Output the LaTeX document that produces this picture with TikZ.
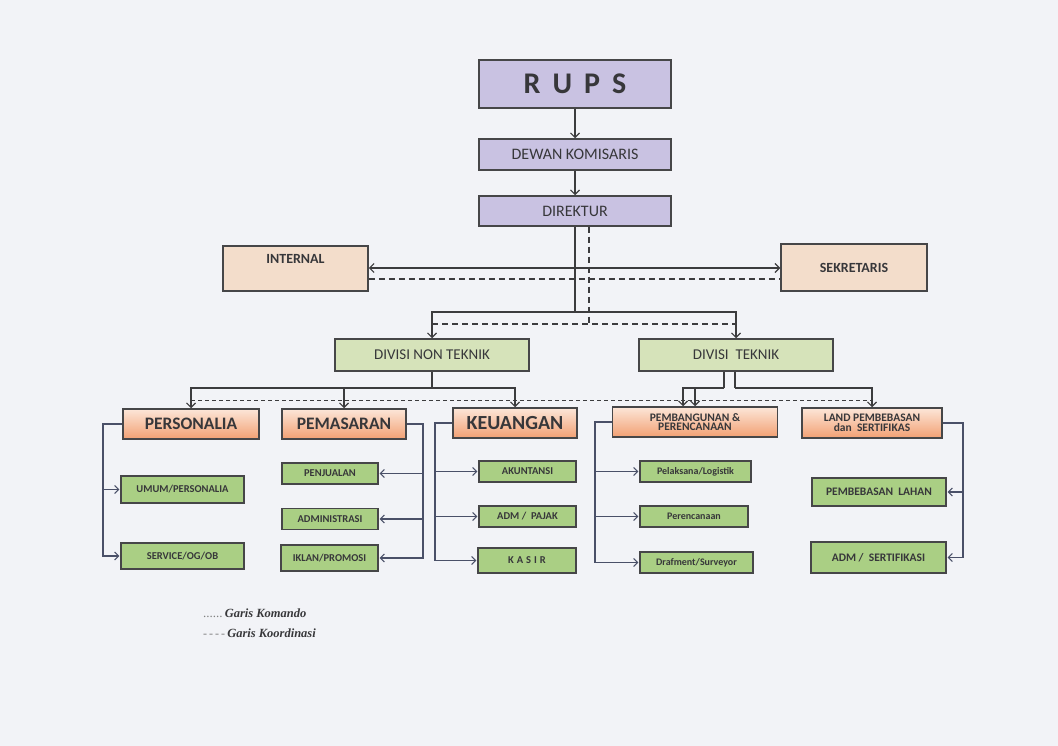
\documentclass[tikz,border=0pt]{standalone}
\usepackage{fontspec}
\setmainfont{Carlito}
\newfontfamily\legendfont{Liberation Serif}
\usetikzlibrary{arrows.meta}
\definecolor{bg}{RGB}{242,243,247}
\definecolor{lav}{RGB}{201,194,226}
\definecolor{peach}{RGB}{243,221,203}
\definecolor{divg}{RGB}{214,227,186}
\definecolor{subg}{RGB}{170,207,132}
\definecolor{deptop}{RGB}{252,230,216}
\definecolor{deptbot}{RGB}{242,160,115}
\definecolor{boxline}{RGB}{70,70,72}
\definecolor{ln}{RGB}{60,60,62}
\definecolor{lnb}{RGB}{74,80,104}
\definecolor{txt}{RGB}{55,55,58}
\newcommand\fsz[1]{\fontsize{#1}{#1}\selectfont}
\begin{document}
\begin{tikzpicture}[x=1pt,y=-1pt,
  box/.style={draw=boxline, line width=1.5pt, inner sep=0pt, text=txt, align=center},
  topbox/.style={box, fill=lav, minimum width=192pt},
  pbox/.style={box, fill=peach},
  divbox/.style={box, fill=divg, minimum height=32pt, font=\fsz{15}},
  dept/.style={box, top color=deptop, bottom color=deptbot, minimum height=30pt, font=\bfseries},
  sub/.style={box, fill=subg, line width=1.3pt, font=\fsz{10.5}\bfseries},
  lnk/.style={draw=ln, line width=1.1pt},
  arr/.style={lnk, -{Straight Barb[length=4.5pt,width=9pt]}},
  darr/.style={lnk, {Straight Barb[length=4.5pt,width=9pt]}-{Straight Barb[length=4.5pt,width=9pt]}},
  arrb/.style={draw=lnb, line width=1.1pt, -{Straight Barb[length=4pt,width=8pt]}, shorten >=1pt},
  dsh/.style={draw=ln, line width=1.1pt, dash pattern=on 6pt off 4pt},
  dsh2/.style={draw=ln, line width=0.9pt, dash pattern=on 4pt off 3pt},
]
\fill[bg] (0,0) rectangle (1058,746);
\useasboundingbox (0,0) rectangle (1058,746);

% top chain
\node[topbox, minimum height=48pt, font=\fsz{30}\bfseries] (rups) at (575,84) {R\hspace{12pt}U\hspace{12pt}P\hspace{12pt}S};
\node[topbox, minimum height=31pt, font=\fsz{16}] (dewan) at (575,154.5) {DEWAN KOMISARIS};
\node[topbox, minimum height=30pt, font=\fsz{16}] (dir) at (575,211) {DIREKTUR};

% staff
\node[pbox, minimum width=145pt, text height=18pt, text depth=27pt, inner ysep=0pt, font=\fsz{14}\bfseries] (int) at (295.5,268.5) {INTERNAL};
\node[pbox, minimum width=146pt, minimum height=47pt, font=\fsz{14}\bfseries] (sek) at (854,267.5) {SEKRETARIS};

% divisions
\node[divbox, minimum width=194pt] (dnt) at (432,355) {DIVISI NON TEKNIK};
\node[divbox, minimum width=194pt] (dt) at (736,355) {DIVISI\ \ TEKNIK};

% departments
\node[dept, minimum width=136pt, font=\fsz{17.5}\bfseries] (pers) at (191,424) {PERSONALIA};
\node[dept, minimum width=124pt, font=\fsz{17.5}\bfseries] (pem) at (344,424) {PEMASARAN};
\node[dept, minimum width=124pt, font=\fsz{20}\bfseries] (kue) at (515,423) {KEUANGAN};
\node[dept, minimum width=165pt, font=\fontsize{11.5}{9.5}\selectfont\bfseries] (pb) at (695,422) {PEMBANGUNAN \&\\PERENCANAAN};
\node[dept, minimum width=140pt, font=\fontsize{11.5}{10}\selectfont\bfseries] (land) at (872,423) {LAND PEMBEBASAN\\dan\ \ SERTIFIKAS};

% sub units
\node[sub, minimum width=123pt, minimum height=27pt] (umum) at (182.5,489.5) {UMUM/PERSONALIA};
\node[sub, minimum width=123pt, minimum height=26pt] (serv) at (182.5,556) {SERVICE/OG/OB};
\node[sub, minimum width=96pt, minimum height=21pt] (penj) at (330,473.5) {PENJUALAN};
\node[sub, minimum width=96pt, minimum height=21pt] (adm) at (330,519) {ADMINISTRASI};
\node[sub, minimum width=97pt, minimum height=26pt] (ikl) at (329.5,558) {IKLAN/PROMOSI};
\node[sub, minimum width=97pt, minimum height=21pt] (akun) at (527.5,471.5) {AKUNTANSI};
\node[sub, minimum width=97pt, minimum height=21pt] (pajak) at (527.5,516.5) {ADM /\ \ PAJAK};
\node[sub, minimum width=98pt, minimum height=25pt] (kas) at (527,560.5) {K\hspace{3pt}A\hspace{3pt}S\hspace{3pt}I\hspace{3pt}R};
\node[sub, minimum width=111pt, minimum height=21pt, font=\fsz{10}\bfseries] (pel) at (695.5,471.5) {Pelaksana/Logistik};
\node[sub, minimum width=108pt, minimum height=21pt, font=\fsz{10}\bfseries] (per) at (694,516.5) {Perencanaan};
\node[sub, minimum width=113pt, minimum height=21pt, font=\fsz{10}\bfseries] (draf) at (696.5,562.5) {Drafment/Surveyor};
\node[sub, minimum width=134pt, minimum height=28pt, font=\fsz{11.5}\bfseries] (lahan) at (879,492) {PEMBEBASAN\ \ LAHAN};
\node[sub, minimum width=135pt, minimum height=31pt, font=\fsz{11.5}\bfseries] (sert) at (878.5,557.5) {ADM /\ \ SERTIFIKASI};

% coordinates
\coordinate (j1) at (575,312);
\coordinate (hl) at (575,268);
\coordinate (dl) at (589,279);
\coordinate (dd) at (589,324);
\coordinate (r1) at (432,388);
\coordinate (r2) at (724,388);
\coordinate (r3) at (735,388);
\coordinate (k) at (500,400);
\coordinate (bx1) at (103,0);
\coordinate (bx2) at (423,0);
\coordinate (bx3) at (435,0);
\coordinate (bx4) at (595,0);
\coordinate (bx5) at (963,0);

% command lines (solid)
\draw[arr] (rups) -- (dewan);
\draw[arr] (dewan) -- (dir);
\draw[lnk] (dir.south) -- (j1);
\draw[arr] (j1) -| (dnt.north);
\draw[arr] (j1) -| (dt.north);
\draw[darr] (int.east |- hl) -- (sek.west |- hl);

% coordination (dashed)
\draw[dsh] (int.east |- dl) -- (sek.west |- dl);
\draw[dsh] (dir.south -| dd) -- (dd);
\draw[dsh] (dnt.north |- dd) -- (dt.north |- dd);
\draw[dsh2] (pers.north |- k) -- (land.north |- k);

% divisions to departments
\draw[lnk] (dnt.south) -- (r1);
\draw[arr] (r1) -| (pers.north);
\draw[arr] (r1) -| (kue.north);
\draw[arr] (pem.north |- r1) -- (pem.north);
\draw[lnk] (dt.south -| r2) -- (r2);
\draw[arr] (r2) -| ([xshift=-12pt]pb.north);
\draw[lnk] (dt.south -| r3) -- (r3);
\draw[arr] (r3) -| (land.north);
\draw[arr] (pb.north |- r3) -- (pb.north);

% departments to units
\draw[arrb] (pers.west) -| (bx1 |- serv.west) -- (serv.west);
\draw[arrb] (bx1 |- umum.west) -- (umum.west);
\draw[arrb] (pem.east) -| (bx2 |- ikl.east) -- (ikl.east);
\draw[arrb] (bx2 |- penj.east) -- (penj.east);
\draw[arrb] (bx2 |- adm.east) -- (adm.east);
\draw[arrb] (kue.west) -| (bx3 |- kas.west) -- (kas.west);
\draw[arrb] (bx3 |- akun.west) -- (akun.west);
\draw[arrb] (bx3 |- pajak.west) -- (pajak.west);
\draw[arrb] (pb.west) -| (bx4 |- draf.west) -- (draf.west);
\draw[arrb] (bx4 |- pel.west) -- (pel.west);
\draw[arrb] (bx4 |- per.west) -- (per.west);
\draw[arrb] (land.east) -| (bx5 |- sert.east) -- (sert.east);
\draw[arrb] (bx5 |- lahan.east) -- (lahan.east);

% legend
\node[anchor=west, inner sep=0pt, text=txt, font=\legendfont\fsz{12.5}] (leg1) at (203,613) {{\color{gray}\fsz{13}......}\,\textbf{\textit{Garis Komando}}};
\node[anchor=west, inner sep=0pt, text=txt, font=\legendfont\fsz{12.5}] (leg2) at (203,633) {{\color{gray}\fsz{12}-\,-\,-\,-}\,\textbf{\textit{Garis Koordinasi}}};
\end{tikzpicture}
\end{document}
